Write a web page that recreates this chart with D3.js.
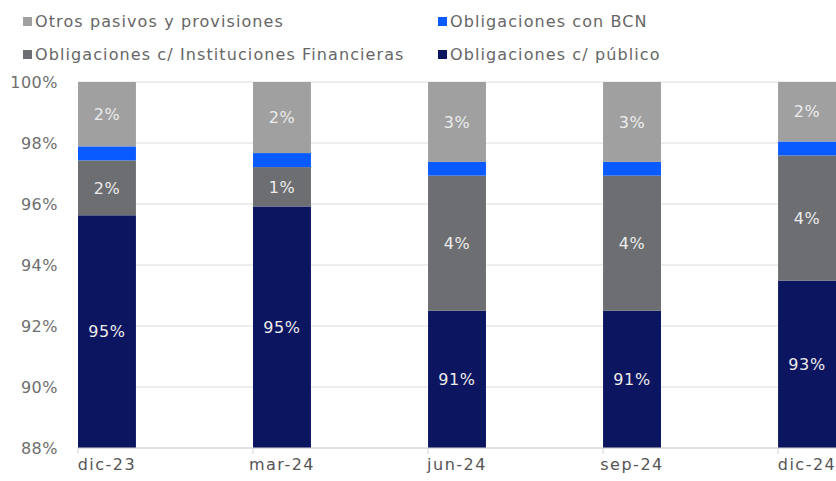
<!DOCTYPE html>
<html>
<head>
<meta charset="utf-8">
<script src="https://cdn.jsdelivr.net/npm/d3@7"></script>
<style>
  body { margin: 0; background: #fff; }
  svg { font-family: "DejaVu Sans", sans-serif; }
</style>
</head>
<body>
<div id="chart"></div>
<script>
// periods on the x axis
const periods = ["dic-23", "mar-24", "jun-24", "sep-24", "dic-24"];

// share of each item in total liabilities (%)
const publico = [95.63, 95.92, 92.50, 92.50, 93.49];
const instFin = [1.80, 1.29, 4.43, 4.43, 4.10];
const bcn = [0.46, 0.46, 0.45, 0.45, 0.46];
const otros = [2.11, 2.33, 2.62, 2.62, 1.95];

// labels printed on the bars (as shown in the source)
const labelPublico = [95, 95, 91, 91, 93];
const labelInstFin = [2, 1, 4, 4, 4];
const labelOtros = [2, 2, 3, 3, 2];

const yTicks = [88, 90, 92, 94, 96, 98, 100];

const series = [
  { key: "publico", name: "Obligaciones c/ público", color: "#0c1560", values: publico, labels: labelPublico },
  { key: "instFin", name: "Obligaciones c/ Instituciones Financieras", color: "#6c6e71", values: instFin, labels: labelInstFin },
  { key: "bcn", name: "Obligaciones con BCN", color: "#0a5bff", values: bcn, labels: null },
  { key: "otros", name: "Otros pasivos y provisiones", color: "#a0a0a0", values: otros, labels: labelOtros }
];

// legend order as in the picture (two columns, two rows)
const legendItems = [
  { s: series[3], col: 0, row: 0 },
  { s: series[2], col: 1, row: 0 },
  { s: series[1], col: 0, row: 1 },
  { s: series[0], col: 1, row: 1 }
];

const width = 836, height = 481;
const plotLeft = 78, plotRight = 836, plotTop = 82, plotBottom = 448;

const svg = d3.select("#chart").append("svg")
  .attr("width", width)
  .attr("height", height);

const table = periods.map((p, i) => {
  const row = { period: p };
  series.forEach(s => { row[s.key] = s.values[i]; });
  return row;
});

const stacked = d3.stack().keys(series.map(s => s.key))(table);

const x = d3.scaleBand()
  .domain(periods)
  .range([plotLeft, plotRight])
  .paddingInner(0.669)
  .paddingOuter(0)
  .align(0);

const y = d3.scaleLinear()
  .domain([88, 100])
  .range([plotBottom, plotTop]);

// gridlines
svg.append("g")
  .selectAll("line")
  .data(yTicks)
  .enter().append("line")
  .attr("x1", plotLeft)
  .attr("x2", plotRight)
  .attr("y1", d => y(d))
  .attr("y2", d => y(d))
  .attr("stroke", "#dcdcdc")
  .attr("stroke-width", 1);

// y labels
svg.append("g")
  .selectAll("text")
  .data(yTicks)
  .enter().append("text")
  .attr("x", 58)
  .attr("y", d => y(d))
  .attr("dy", "0.36em")
  .attr("text-anchor", "end")
  .attr("fill", "#6e6e6e")
  .attr("font-size", 16)
  .attr("letter-spacing", 0.5)
  .text(d => d + "%");

// bars
const clipY = v => Math.max(88, Math.min(100, v));
stacked.forEach((layer, li) => {
  svg.append("g")
    .selectAll("rect")
    .data(layer)
    .enter().append("rect")
    .attr("x", d => x(d.data.period))
    .attr("width", x.bandwidth())
    .attr("y", d => y(clipY(d[1])))
    .attr("height", d => y(clipY(d[0])) - y(clipY(d[1])))
    .attr("fill", series[li].color);
});

// bar labels
stacked.forEach((layer, li) => {
  const s = series[li];
  if (!s.labels) return;
  svg.append("g")
    .selectAll("text")
    .data(layer)
    .enter().append("text")
    .attr("x", d => x(d.data.period) + x.bandwidth() / 2)
    .attr("y", d => (y(clipY(d[0])) + y(clipY(d[1]))) / 2)
    .attr("dy", "0.36em")
    .attr("text-anchor", "middle")
    .attr("fill", "#ececec")
    .attr("font-size", 16)
    .attr("letter-spacing", 0.6)
    .text((d, i) => s.labels[i] + "%");
});

// x axis
const xAxis = svg.append("g");
xAxis.append("line")
  .attr("x1", plotLeft)
  .attr("x2", plotRight)
  .attr("y1", plotBottom)
  .attr("y2", plotBottom)
  .attr("stroke", "#d4d4d4");
xAxis.selectAll(".tick")
  .data(periods)
  .enter().append("line")
  .attr("x1", d => x(d))
  .attr("x2", d => x(d))
  .attr("y1", plotBottom)
  .attr("y2", plotBottom + 6)
  .attr("stroke", "#d4d4d4");
xAxis.selectAll("text")
  .data(periods)
  .enter().append("text")
  .attr("x", d => x(d) + x.bandwidth() / 2)
  .attr("y", 470)
  .attr("text-anchor", "middle")
  .attr("fill", "#555")
  .attr("font-size", 16)
  .attr("letter-spacing", 1.5)
  .text(d => d);

// legend
const legend = svg.append("g");
const colX = [23, 438];
const rowY = [27, 60];
legendItems.forEach(it => {
  const g = legend.append("g")
    .attr("transform", "translate(" + colX[it.col] + "," + rowY[it.row] + ")");
  g.append("rect")
    .attr("x", 0)
    .attr("y", -10)
    .attr("width", 9)
    .attr("height", 9)
    .attr("fill", it.s.color);
  g.append("text")
    .attr("x", 12)
    .attr("y", 0)
    .attr("fill", "#666")
    .attr("font-size", 16)
    .attr("letter-spacing", 1.1)
    .text(it.s.name);
});
</script>
</body>
</html>
